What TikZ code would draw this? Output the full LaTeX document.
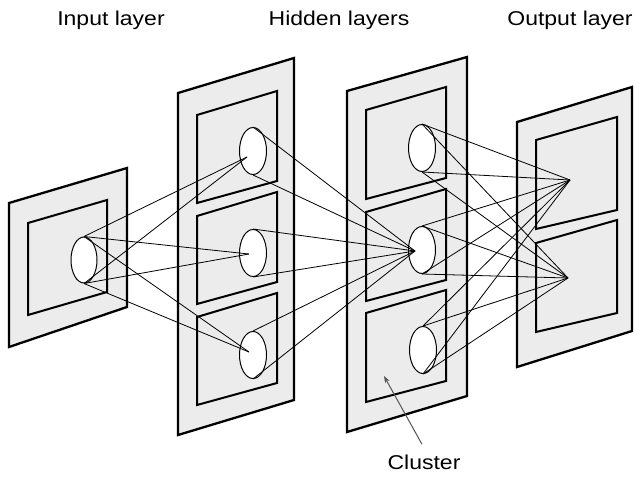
\documentclass[tikz,border=0pt]{standalone}
\usepackage{fontspec}
\setmainfont{Liberation Sans}
\usetikzlibrary{shapes.geometric, arrows.meta}
\definecolor{panelGray}{RGB}{236,236,236}
\definecolor{arrowGray}{RGB}{85,85,85}
\newcommand{\widetext}[1]{\scalebox{1.15}[1]{#1}}

\begin{document}
\begin{tikzpicture}[x=1pt, y=-1pt,
sheet/.style={draw=black, fill=panelGray, line width=2.3pt, line join=miter},
cluster/.style={draw=black, fill=panelGray, line width=2pt},
neuron/.style={ellipse, draw=black, fill=white, line width=1pt,
minimum width=27pt, minimum height=47pt, inner sep=0pt},
link/.style={line width=0.8pt},
caption/.style={font=\fontsize{20}{24}\selectfont, anchor=base, inner sep=0pt},
pointer/.style={-{Stealth[length=7pt,width=5pt]}, line width=1pt, color=arrowGray}]

\useasboundingbox (0,0) rectangle (637,477);

% layer titles
\node[caption] (inlabel)  at (111,25) {\widetext{Input layer}};
\node[caption] (hidlabel) at (339,25) {\widetext{Hidden layers}};
\node[caption] (outlabel) at (570,25) {\widetext{Output layer}};

% input sheet
\filldraw[sheet] (9,203) -- (127,168) -- (127,307) -- (9,347) -- cycle;
\filldraw[cluster] (28,223) -- (107,200) -- (107,292) -- (28,315) -- cycle;

% hidden sheets, three clusters each
\filldraw[sheet] (178,93) -- (294,58) -- (294,400) -- (178,435) -- cycle;
\foreach \y in {0,101,202}
  \filldraw[cluster] (197,115+\y) -- (277,91+\y) -- (277,181+\y) -- (197,203+\y) -- cycle;
\filldraw[sheet] (347,91) -- (467,57) -- (467,396) -- (347,432) -- cycle;
\foreach \y in {0,102,203}
  \filldraw[cluster] (366,110+\y) -- (446,87+\y) -- (446,178+\y) -- (366,199+\y) -- cycle;

% output sheet, two clusters
\filldraw[sheet] (517,122) -- (632,87) -- (632,331) -- (517,367) -- cycle;
\foreach \y in {0,103}
  \filldraw[cluster] (536,140+\y) -- (617,117+\y) -- (617,210+\y) -- (536,229+\y) -- cycle;

% neurons
\node[neuron, minimum width=26pt, minimum height=46pt] (in) at (84,260) {};
\node[neuron] (ha) at (253,151) {};
\node[neuron] (hb) at (253,253) {};
\node[neuron] (hc) at (253,355) {};
\node[neuron] (ka) at (422,148) {};
\node[neuron] (kb) at (422,250) {};
\node[neuron] (kc) at (423,350) {};

% points where the links meet
\coordinate (ha-in) at (247,157);
\coordinate (hb-in) at (249,254);
\coordinate (hc-in) at (249,352);
\coordinate (kb-in) at (415,251);
\coordinate (oa) at (570,180);
\coordinate (ob) at (568,278);

% links
\foreach \t in {ha,hb,hc}{
  \draw[link] (in.north) -- (\t-in);
  \draw[link] (in.south) -- (\t-in);
}
\foreach \s in {ha,hb,hc}{
  \draw[link] (\s.north) -- (kb-in);
  \draw[link] (\s.south) -- (kb-in);
}
\foreach \s in {ka,kb,kc}
  \foreach \t in {oa,ob}{
    \draw[link] (\s.north) -- (\t);
    \draw[link] (\s.south) -- (\t);
  }

% cluster pointer
\node[caption] (clusterlabel) at (424,469) {\widetext{Cluster}};
\coordinate (clusterpt) at (384,376);
\draw[pointer] ([xshift=-2pt,yshift=10pt]clusterlabel.north) -- (clusterpt);
\end{tikzpicture}
\end{document}
